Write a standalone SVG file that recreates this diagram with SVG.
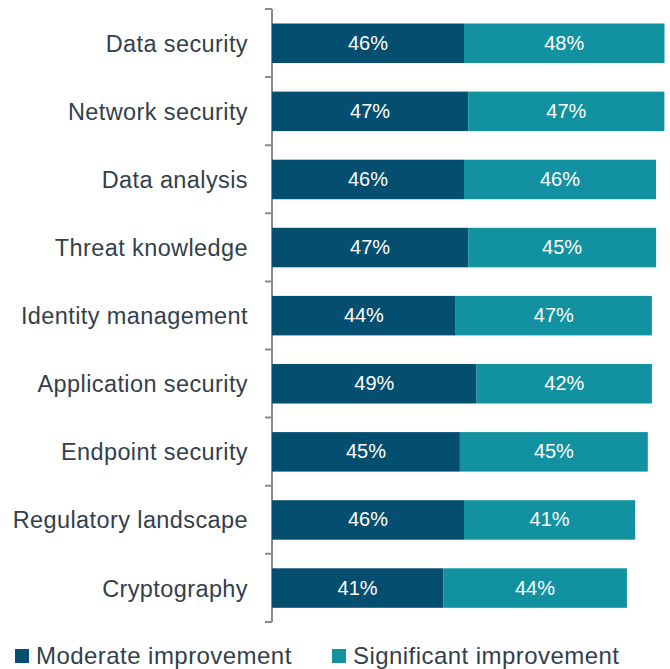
<svg xmlns="http://www.w3.org/2000/svg" width="670" height="669" viewBox="0 0 670 669">
<style>
.lab{font-family:"Liberation Sans",Arial,sans-serif;font-size:23.5px;letter-spacing:0.4px;fill:#333f4b;text-anchor:end}
.val{font-family:"Liberation Sans",Arial,sans-serif;font-size:20px;fill:#ffffff;text-anchor:middle}
.leg{font-family:"Liberation Sans",Arial,sans-serif;font-size:24px;letter-spacing:0.45px;fill:#333f4b}
.m{fill:#044e70}
.s{fill:#1292a0}
.ax{stroke:#8a8a8a;stroke-width:2;fill:none}
</style>
<rect width="670" height="669" fill="#ffffff"/>
<g id="axis">
<path class="ax" d="M272 9V622M265 9H272M265 77.1H272M265 145.2H272M265 213.3H272M265 281.4H272M265 349.5H272M265 417.6H272M265 485.7H272M265 553.8H272M265 622H272"/>
</g>
<g id="bar-data-security">
<rect class="m" x="272" y="23.5" width="192" height="39.5"/><rect class="s" x="464" y="23.5" width="200.5" height="39.5"/>
<text class="lab" x="248" y="52">Data security</text>
<text class="val" x="368" y="50">46%</text><text class="val" x="564.2" y="50">48%</text>
</g>
<g id="bar-network-security">
<rect class="m" x="272" y="91.6" width="196.2" height="39.5"/><rect class="s" x="468.2" y="91.6" width="196.2" height="39.5"/>
<text class="lab" x="248" y="120">Network security</text>
<text class="val" x="370.1" y="118">47%</text><text class="val" x="566.3" y="118">47%</text>
</g>
<g id="bar-data-analysis">
<rect class="m" x="272" y="159.7" width="192" height="39.5"/><rect class="s" x="464" y="159.7" width="192" height="39.5"/>
<text class="lab" x="248" y="188">Data analysis</text>
<text class="val" x="368" y="186">46%</text><text class="val" x="560" y="186">46%</text>
</g>
<g id="bar-threat-knowledge">
<rect class="m" x="272" y="227.8" width="196.2" height="39.5"/><rect class="s" x="468.2" y="227.8" width="187.9" height="39.5"/>
<text class="lab" x="248" y="256">Threat knowledge</text>
<text class="val" x="370.1" y="254">47%</text><text class="val" x="562.1" y="254">45%</text>
</g>
<g id="bar-identity-management">
<rect class="m" x="272" y="295.9" width="183.7" height="39.5"/><rect class="s" x="455.7" y="295.9" width="196.2" height="39.5"/>
<text class="lab" x="248" y="324">Identity management</text>
<text class="val" x="363.9" y="322">44%</text><text class="val" x="553.8" y="322">47%</text>
</g>
<g id="bar-application-security">
<rect class="m" x="272" y="364" width="204.6" height="39.5"/><rect class="s" x="476.6" y="364" width="175.3" height="39.5"/>
<text class="lab" x="248" y="392">Application security</text>
<text class="val" x="374.3" y="390">49%</text><text class="val" x="564.3" y="390">42%</text>
</g>
<g id="bar-endpoint-security">
<rect class="m" x="272" y="432.1" width="187.9" height="39.5"/><rect class="s" x="459.9" y="432.1" width="187.9" height="39.5"/>
<text class="lab" x="248" y="460">Endpoint security</text>
<text class="val" x="366" y="458">45%</text><text class="val" x="553.9" y="458">45%</text>
</g>
<g id="bar-regulatory-landscape">
<rect class="m" x="272" y="500.2" width="192" height="39.5"/><rect class="s" x="464" y="500.2" width="171.2" height="39.5"/>
<text class="lab" x="248" y="528">Regulatory landscape</text>
<text class="val" x="368" y="526">46%</text><text class="val" x="549.6" y="526">41%</text>
</g>
<g id="bar-cryptography">
<rect class="m" x="272" y="568.3" width="171.2" height="39.5"/><rect class="s" x="443.2" y="568.3" width="183.7" height="39.5"/>
<text class="lab" x="248" y="597">Cryptography</text>
<text class="val" x="357.6" y="595">41%</text><text class="val" x="535" y="595">44%</text>
</g>
<g id="legend">
<rect class="m" x="15" y="649" width="14" height="14"/>
<text class="leg" x="36" y="664">Moderate improvement</text>
<rect class="s" x="332" y="649" width="14" height="14"/>
<text class="leg" x="353" y="664">Significant improvement</text>
</g>
</svg>
